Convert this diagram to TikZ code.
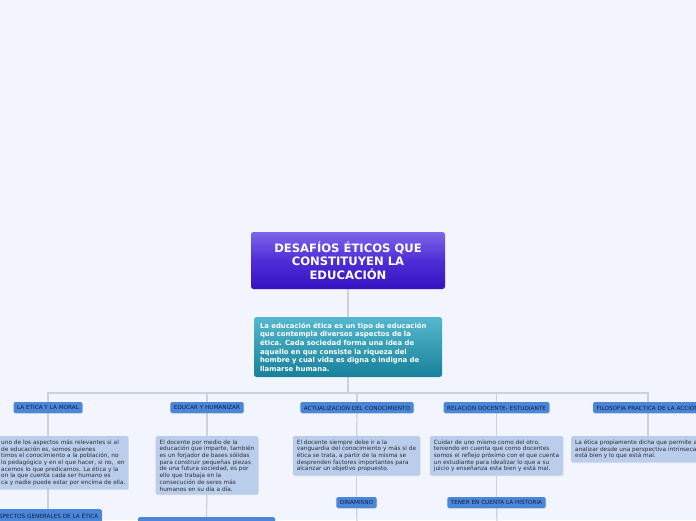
\documentclass[tikz,border=0pt]{standalone}
\usepackage{fontspec}
\setmainfont{DejaVu Sans}
\usetikzlibrary{shadows}
\definecolor{bgc}{HTML}{F2F5FE}
\definecolor{titletop}{HTML}{7D66EA}
\definecolor{titlemid}{HTML}{4F2DD6}
\definecolor{titlebot}{HTML}{3412C0}
\definecolor{desctop}{HTML}{55B8CE}
\definecolor{descbot}{HTML}{17819A}
\definecolor{lblfill}{HTML}{4A86DA}
\definecolor{lbltext}{HTML}{14213A}
\definecolor{boxfill}{HTML}{BACDEA}
\definecolor{boxtext}{HTML}{2B2E3A}
\definecolor{edgec}{HTML}{CDD1DD}
\pgfdeclarelayer{bg}
\pgfdeclarelayer{edges}
\pgfsetlayers{bg,edges,main}
\tikzset{
  lbl/.style={fill=lblfill, text=lbltext, rounded corners=1.5pt,
    font=\fontsize{5.7}{6.2}\selectfont, inner xsep=3.5pt, inner ysep=0pt,
    minimum height=11pt,
    drop shadow={shadow xshift=0.4pt, shadow yshift=-0.6pt, opacity=0.3}},
  tbox/.style={fill=boxfill, text=boxtext, rounded corners=1.5pt,
    font=\fontsize{5.8}{6.7}\selectfont, align=left, inner xsep=4pt, inner ysep=3.5pt,
    drop shadow={shadow xshift=0.4pt, shadow yshift=-0.6pt, opacity=0.15}},
  titlebox/.style={rounded corners=2.5pt, top color=titletop, bottom color=titlebot,
    middle color=titlemid, text=white, align=center,
    font=\fontsize{11.6}{13.8}\selectfont\bfseries,
    minimum width=194pt, minimum height=57pt, inner sep=0pt},
  descbox/.style={rounded corners=2.5pt, top color=desctop, bottom color=descbot,
    text=white, align=left, font=\fontsize{6.9}{8.6}\selectfont\bfseries,
    minimum width=188pt, minimum height=60pt, text width=176pt, inner xsep=6pt},
  conn/.style={draw=edgec, line width=1.2pt},
}
\begin{document}
\begin{tikzpicture}[x=1pt,y=-1pt]
\begin{pgfonlayer}{bg}
\fill[bgc] (0,0) rectangle (696,520);
\end{pgfonlayer}
\useasboundingbox (0,0) rectangle (696,520);
\clip (0,0) rectangle (696,520);

\node[titlebox] (T) at (348,260.5) {DESAFÍOS ÉTICOS QUE\\CONSTITUYEN LA\\EDUCACIÓN};
\node[descbox] (D) at (348,347) {La educación ética es un tipo de educación\\que contempla diversos aspectos de la\\ética. Cada sociedad forma una idea de\\aquello en que consiste la riqueza del\\hombre y cual vida es digna o indigna de\\llamarse humana.};

\coordinate (bus) at (348,393);
\coordinate (b5) at (648,402);
\coordinate (e3) at (357,525);
\coordinate (e4) at (497,525);

% branch 1
\node[lbl] (L1) at (48,407.5) {LA ETICA Y LA MORAL};
\node[tbox, anchor=north west, inner xsep=3pt] (T1) at (-2,436) {uno de los aspectos más relevantes si al\\de educación es, somos quienes\\timos el conocimiento a la población, no\\lo pedagógico y en el que hacer, si no,\ \ en\\acemos lo que predicamos. La ética y la\\on la que cuenta cada ser humano es\\ca y nadie puede estar por encima de ella.};
\node[lbl, anchor=north east, minimum height=13pt] (S1) at (102,509) {ASPECTOS GENERALES DE LA ÉTICA};

% branch 2
\node[lbl] (L2) at (207,407.5) {EDUCAR Y HUMANIZAR};
\node[tbox, anchor=north] (T2) at (207,436) {El docente por medio de la\\educación que imparte, también\\es un forjador de bases sólidas\\para construir pequeñas piezas\\de una futura sociedad, es por\\ello que trabaja en la\\consecución de seres más\\humanos en su día a día.};
\node[lbl, anchor=north, minimum width=137pt, minimum height=14pt] (S2) at (206.5,517) {};

% branch 3
\node[lbl] (L3) at (357,407.5) {ACTUALIZACIÓN DEL CONOCIMIENTO};
\node[tbox, anchor=north] (T3) at (356.5,436) {El docente siempre debe ir a la\\vanguardia del conocimiento y más si de\\ética se trata, a partir de la misma se\\desprenden factores importantes para\\alcanzar un objetivo propuesto.};
\node[lbl] (S3) at (356.5,502.5) {DINAMISNO};

% branch 4
\node[lbl] (L4) at (496.5,407.5) {RELACIÓN DOCENTE- ESTUDIANTE};
\node[tbox, anchor=north] (T4) at (496.5,436) {Cuidar de uno mismo como del otro,\\teniendo en cuenta que como docentes\\somos el reflejo próximo con el que cuenta\\un estudiante para idealizar lo que a su\\juicio y enseñanza esta bien y está mal.};
\node[lbl] (S4) at (496.5,502.5) {TENER EN CUENTA LA HISTORIA};

% branch 5
\node[lbl, anchor=west] (L5) at (593,407.5) {FILOSOFIA PRACTICA DE LA ACCIÓN};
\node[tbox, anchor=north west] (T5) at (571,436) {La ética propiamente dicha que permite al docente\\analizar desde una perspectiva intrínseca lo que\\está bien y lo que está mal.};

\begin{pgfonlayer}{edges}
\draw[conn] (T) -- (D);
\draw[conn] (D) -- (bus);
\draw[conn] (bus) -| (L1);
\draw[conn] (bus) -| (L2);
\draw[conn] (bus) -| (L3);
\draw[conn] (bus) -| (L4);
\draw[conn] (bus) -| (b5);
\draw[conn] (L1) -- (T1.north -| L1);
\draw[conn] (T1.south -| L1) -- (S1.north -| L1);
\draw[conn] (L2) -- (T2);
\draw[conn] (T2) -- (S2);
\draw[conn] (L3) -- (T3);
\draw[conn] (T3) -- (S3);
\draw[conn] (S3) -- (e3);
\draw[conn] (L4) -- (T4);
\draw[conn] (T4) -- (S4);
\draw[conn] (S4) -- (e4);
\draw[conn] (b5) -- (T5.north -| b5);
\end{pgfonlayer}
\end{tikzpicture}
\end{document}
